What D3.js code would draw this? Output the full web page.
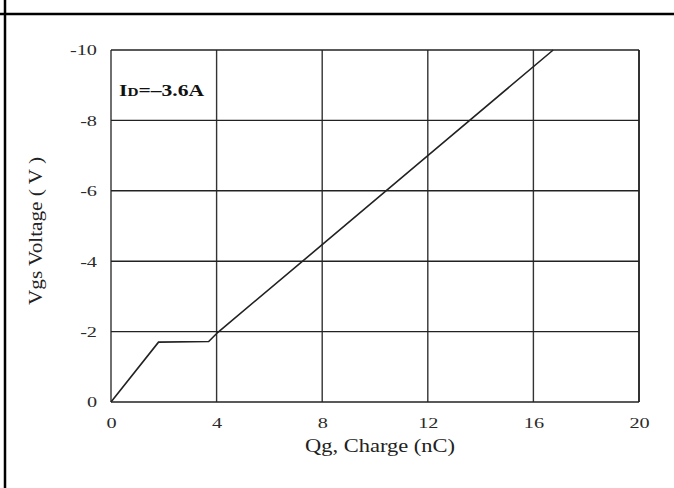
<!DOCTYPE html>
<html>
<head>
<meta charset="utf-8">
<script src="https://cdn.jsdelivr.net/npm/d3@7"></script>
<style>
  body { margin: 0; background: #fff; }
  svg { display: block; }
</style>
</head>
<body>
<div id="chart"></div>
<script>
// gate charge curve
var charge = [0, 1.8, 3.7, 4.05, 8, 12, 16.75];
var voltage = [0, -1.7, -1.72, -1.98, -4.47, -7.0, -10];

var xTicks = [0, 4, 8, 12, 16, 20];
var yTicks = [0, -2, -4, -6, -8, -10];

var W = 674, H = 488;
var margin = {top: 50, right: 35, bottom: 86, left: 111},
    width = 639 - margin.left,
    height = 402 - margin.top;

var svg = d3.select("#chart")
  .append("svg")
    .attr("width", W)
    .attr("height", H);

// frame lines of the page
svg.append("line")
  .attr("x1", 0).attr("x2", W)
  .attr("y1", 14).attr("y2", 14)
  .attr("stroke", "#000").attr("stroke-width", 2.5);
svg.append("line")
  .attr("x1", 5).attr("x2", 5)
  .attr("y1", 0).attr("y2", H)
  .attr("stroke", "#000").attr("stroke-width", 2.5);

var g = svg.append("g")
  .attr("transform", "translate(" + margin.left + "," + margin.top + ")");

var x = d3.scaleLinear().domain([0, 20]).range([0, width]);
var y = d3.scaleLinear().domain([0, -10]).range([height, 0]);

// grid
g.selectAll(".vgrid")
  .data(xTicks)
  .enter().append("line")
    .attr("x1", function(d) { return x(d); })
    .attr("x2", function(d) { return x(d); })
    .attr("y1", 0).attr("y2", height)
    .attr("stroke", "#333")
    .attr("stroke-width", function(d) { return d == 20 ? 2 : 1.4; });

g.selectAll(".hgrid")
  .data(yTicks)
  .enter().append("line")
    .attr("x1", 0).attr("x2", width)
    .attr("y1", function(d) { return y(d); })
    .attr("y2", function(d) { return y(d); })
    .attr("stroke", "#222")
    .attr("stroke-width", 1.4);

// the scanned datasheet text is stretched sideways, so widen glyphs a bit
function widen(sel, k) {
  sel.each(function() {
    var w = this.getComputedTextLength();
    d3.select(this)
      .attr("textLength", w * k)
      .attr("lengthAdjust", "spacingAndGlyphs");
  });
}

// axes, only for the labels (plain hyphen like the datasheet)
var fmt = function(d) { return String(d); };
var xAxis = g.append("g")
  .attr("transform", "translate(0," + height + ")")
  .call(d3.axisBottom(x).tickValues(xTicks).tickFormat(fmt).tickSize(0).tickPadding(15));
var yAxis = g.append("g")
  .call(d3.axisLeft(y).tickValues(yTicks).tickFormat(fmt).tickSize(0).tickPadding(14));

[xAxis, yAxis].forEach(function(a) {
  a.select(".domain").remove();
  a.selectAll("text")
    .attr("font-family", "Liberation Serif, serif")
    .attr("font-size", 15)
    .attr("fill", "#2a2a2a")
    .call(widen, 1.35);
});

// curve
var pts = charge.map(function(c, i) { return [c, voltage[i]]; });
g.append("path")
  .datum(pts)
  .attr("fill", "none")
  .attr("stroke", "#222")
  .attr("stroke-width", 1.6)
  .attr("d", d3.line()
    .x(function(d) { return x(d[0]); })
    .y(function(d) { return y(d[1]); }));

// annotation
var ann = g.append("text")
  .attr("x", 8).attr("y", 46)
  .attr("font-family", "Liberation Serif, serif")
  .attr("font-weight", "bold")
  .attr("font-size", 17)
  .attr("fill", "#111")
  .attr("textLength", 85)
  .attr("lengthAdjust", "spacingAndGlyphs");
ann.append("tspan").text("I");
ann.append("tspan").attr("font-size", 12).text("D");
ann.append("tspan").text("=–3.6A");

// axis titles
svg.append("text")
  .attr("x", 380).attr("y", 452)
  .attr("text-anchor", "middle")
  .attr("font-family", "Liberation Serif, serif")
  .attr("font-size", 19)
  .attr("fill", "#222")
  .attr("textLength", 150)
  .attr("lengthAdjust", "spacingAndGlyphs")
  .text("Qg, Charge (nC)");

svg.append("text")
  .attr("transform", "translate(42,231) rotate(-90)")
  .attr("text-anchor", "middle")
  .attr("font-family", "Liberation Serif, serif")
  .attr("font-size", 19)
  .attr("fill", "#222")
  .attr("textLength", 148)
  .attr("lengthAdjust", "spacingAndGlyphs")
  .text("Vgs Voltage ( V )");
</script>
</body>
</html>
